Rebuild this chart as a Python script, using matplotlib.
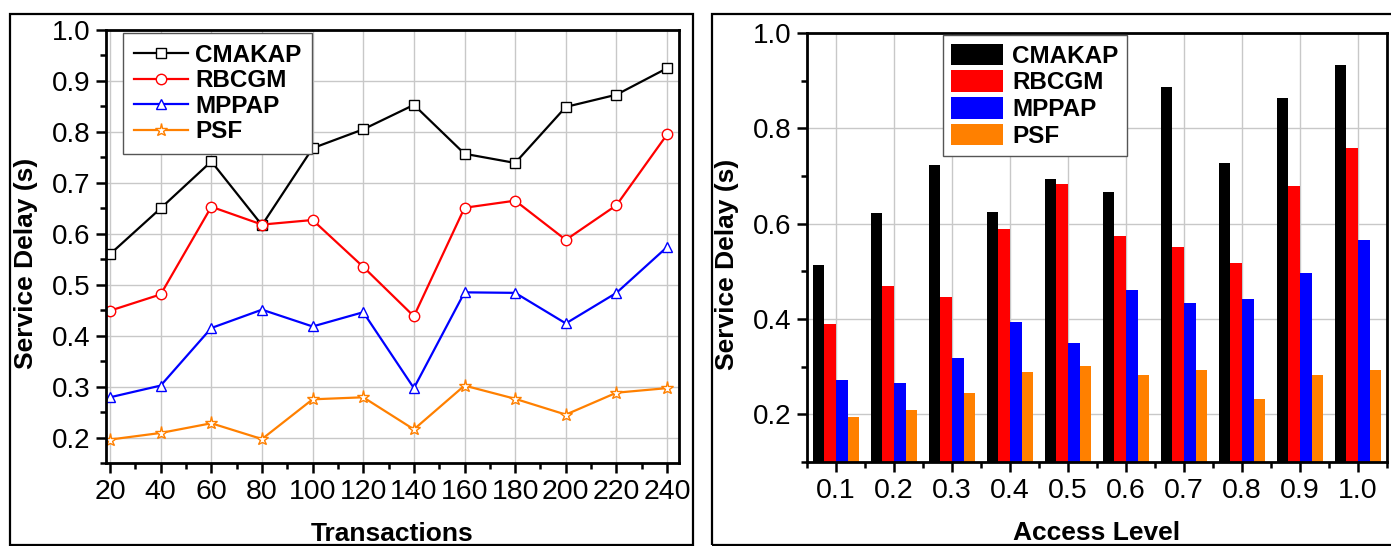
import numpy as np
import matplotlib
matplotlib.use('Agg')
import matplotlib.pyplot as plt
from matplotlib.patches import Rectangle
from matplotlib.ticker import MultipleLocator, FixedLocator

plt.rcParams['font.family'] = ['Liberation Sans', 'DejaVu Sans']

series = ['CMAKAP', 'RBCGM', 'MPPAP', 'PSF']
colors = ['black', '#FF0000', '#0000FF', '#FF8000']
markers = ['s', 'o', '^', '*']

# left panel: service delay vs transactions
transactions = [20, 40, 60, 80, 100, 120, 140, 160, 180, 200, 220, 240]
cmakap_t = [0.560, 0.650, 0.742, 0.617, 0.768, 0.805, 0.853, 0.757, 0.739, 0.849, 0.873, 0.925]
rbcgm_t = [0.449, 0.481, 0.653, 0.618, 0.627, 0.535, 0.438, 0.651, 0.665, 0.588, 0.656, 0.795]
mppap_t = [0.279, 0.302, 0.415, 0.451, 0.418, 0.446, 0.297, 0.485, 0.484, 0.424, 0.484, 0.574]
psf_t = [0.196, 0.209, 0.228, 0.197, 0.275, 0.279, 0.216, 0.302, 0.276, 0.245, 0.288, 0.297]

# right panel: service delay vs access level
access_levels = ['0.1', '0.2', '0.3', '0.4', '0.5', '0.6', '0.7', '0.8', '0.9', '1.0']
cmakap_a = [0.513, 0.623, 0.724, 0.625, 0.694, 0.666, 0.887, 0.727, 0.863, 0.932]
rbcgm_a = [0.389, 0.470, 0.447, 0.588, 0.683, 0.575, 0.552, 0.517, 0.678, 0.758]
mppap_a = [0.273, 0.265, 0.318, 0.393, 0.349, 0.460, 0.433, 0.441, 0.497, 0.565]
psf_a = [0.195, 0.209, 0.245, 0.289, 0.302, 0.282, 0.293, 0.233, 0.283, 0.293]

fig = plt.figure(figsize=(13.91, 5.46), dpi=100)

# outer frames around each panel
fig.add_artist(Rectangle((10/1391, 1/546), 683/1391, 531/546, transform=fig.transFigure,
                         fill=False, lw=1.6, ec='black'))
fig.add_artist(Rectangle((712/1391, 1/546), 690/1391, 531/546, transform=fig.transFigure,
                         fill=False, lw=1.6, ec='black'))

ax1 = fig.add_axes([106/1391, 1 - 463/546, 573/1391, 433/546])
ax2 = fig.add_axes([807/1391, 1 - 462/546, 580/1391, 429/546])


def style_axis(ax):
    for sp in ax.spines.values():
        sp.set_linewidth(2.0)
    ax.tick_params(which='both', direction='out', width=1.8, top=False, right=False)
    ax.tick_params(which='major', length=7.5, pad=4)
    ax.tick_params(which='minor', length=4.5)
    ax.tick_params(axis='x', labelsize=20.5)
    ax.tick_params(axis='y', labelsize=20)
    ax.grid(True, which='major', color='#C8C8C8', lw=1.0)
    ax.set_axisbelow(True)


# ---- left: line chart
t_data = [cmakap_t, rbcgm_t, mppap_t, psf_t]
for name, vals, c, m in zip(series, t_data, colors, markers):
    ax1.plot(transactions, vals, color=c, lw=1.6, marker=m,
             markersize=9.5 if m == '*' else 7.5, markerfacecolor='white',
             markeredgecolor=c, markeredgewidth=1.0, label=name)
ax1.set_xlim(18.4, 244.7)
ax1.set_ylim(0.15, 1.0)
ax1.xaxis.set_major_locator(FixedLocator(transactions))
ax1.xaxis.set_minor_locator(MultipleLocator(10))
ax1.yaxis.set_minor_locator(MultipleLocator(0.05))
ax1.set_yticks(np.arange(0.2, 1.01, 0.1))
ax1.set_yticklabels(['%.1f' % v for v in np.arange(0.2, 1.01, 0.1)])
style_axis(ax1)
ax1.set_xlabel('Transactions', fontsize=19, fontweight='bold')
ax1.set_ylabel('Service Delay (s)', fontsize=19, fontweight='bold')
ax1.xaxis.set_label_coords(0.5, -0.137)
ax1.yaxis.set_label_coords(-0.118, 0.46)
leg1 = ax1.legend(loc='upper left', bbox_to_anchor=(0.03, 0.993), borderaxespad=0,
                  prop={'weight': 'bold', 'size': 17.5}, frameon=True, fancybox=False,
                  edgecolor='#555555', framealpha=1, handlelength=2.2,
                  handletextpad=0.3, labelspacing=0.1, borderpad=0.45)
leg1.get_frame().set_linewidth(1.0)

# ---- right: grouped bar chart
a_data = [cmakap_a, rbcgm_a, mppap_a, psf_a]
x = np.arange(len(access_levels))
w = 0.2
for i, (name, vals, c) in enumerate(zip(series, a_data, colors)):
    ax2.bar(x + (i - 1.5) * w, vals, width=w, color=c, edgecolor='none', label=name, zorder=2)
ax2.set_xlim(-0.5, 9.5)
ax2.set_ylim(0.1, 1.0)
ax2.set_xticks(x)
ax2.set_xticklabels(access_levels)
ax2.xaxis.set_minor_locator(FixedLocator(np.arange(-0.5, 9.6, 1.0)))
ax2.set_yticks([0.2, 0.4, 0.6, 0.8, 1.0])
ax2.set_yticklabels(['0.2', '0.4', '0.6', '0.8', '1.0'])
ax2.yaxis.set_minor_locator(FixedLocator([0.1, 0.3, 0.5, 0.7, 0.9]))
style_axis(ax2)
ax2.set_xlabel('Access Level', fontsize=19, fontweight='bold')
ax2.set_ylabel('Service Delay (s)', fontsize=19, fontweight='bold')
ax2.xaxis.set_label_coords(0.5, -0.138)
ax2.yaxis.set_label_coords(-0.118, 0.46)
leg2 = ax2.legend(loc='upper left', bbox_to_anchor=(0.234, 0.995), borderaxespad=0,
                  prop={'weight': 'bold', 'size': 17.5}, frameon=True, fancybox=False,
                  edgecolor='#555555', framealpha=1, handlelength=2.15, handleheight=1.0,
                  handletextpad=0.35, labelspacing=0.1, borderpad=0.35)
leg2.get_frame().set_linewidth(1.0)

fig.savefig('out.png', dpi=100)
